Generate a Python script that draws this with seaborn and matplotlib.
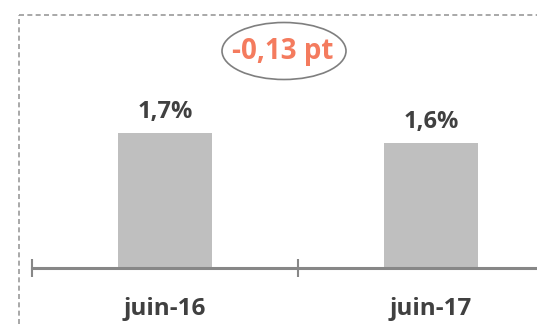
import matplotlib
matplotlib.use("Agg")
import matplotlib.pyplot as plt
from matplotlib.patches import Ellipse
from matplotlib.lines import Line2D
import seaborn as sns
import pandas as pd

categories = ["juin-16", "juin-17"]
values = [1.71, 1.58]
value_labels = ["1,7%", "1,6%"]
delta_label = "-0,13 pt"

sns.set_style("white")
plt.rcParams['font.family'] = ['Open Sans', 'DejaVu Sans']

W, H = 537, 324
fig = plt.figure(figsize=(W / 100, H / 100), dpi=100)

ax_left = 32 / W
ax_width = 532 / W
ax_bottom = (H - 268) / H
ax_top_px = 15
ax_height = (268 - ax_top_px) / H
ax = fig.add_axes([ax_left, ax_bottom, ax_width, ax_height])

df = pd.DataFrame({"cat": categories, "val": values})
sns.barplot(data=df, x="cat", y="val", ax=ax, color="#BFBFBF", width=94 / 266,
            saturation=1, edgecolor="none")

px_per_unit = 78.8
ax.set_xlim(-0.5, 1.5)
ax.set_ylim(0, (268 - ax_top_px) / px_per_unit)

for s in ["top", "right", "left"]:
    ax.spines[s].set_visible(False)
ax.spines["bottom"].set_color("#878787")
ax.spines["bottom"].set_linewidth(2.2)
ax.set_yticks([])
ax.set_xlabel("")
ax.set_ylabel("")

ax.set_xticks([0, 1])
ax.set_xticklabels(categories, fontsize=17.5, fontweight="bold", color="#404040")
ax.tick_params(axis="x", which="major", length=0, pad=21)
ax.set_xticks([-0.5, 0.5, 1.5], minor=True)
ax.tick_params(axis="x", which="minor", bottom=True, length=13, width=1.5,
               direction="inout", color="#878787")

for i, (v, lab) in enumerate(zip(values, value_labels)):
    ax.text(i, v + 21 / px_per_unit, lab, ha="center", va="center",
            fontsize=17, fontweight="bold", color="#404040")

cx, cy = 283 / W, 1 - 52 / H
fig.text(cx, cy, delta_label, ha="center", va="center", fontsize=20,
         fontweight="bold", color="#F47B5E")
ell = Ellipse((284, H - 51), 124, 57, transform=None, fill=False,
              edgecolor="#7F7F7F", linewidth=1.2)
fig.add_artist(ell)

fig.add_artist(Line2D([19 / W, 19 / W], [0, 1 - 15 / H], transform=fig.transFigure,
                      color="#9A9A9A", linestyle=(0, (3, 2)), linewidth=1.2))
fig.add_artist(Line2D([19 / W, 1], [1 - 15 / H, 1 - 15 / H], transform=fig.transFigure,
                      color="#9A9A9A", linestyle=(0, (3, 2)), linewidth=1.2))

fig.savefig("out.png", dpi=100)
